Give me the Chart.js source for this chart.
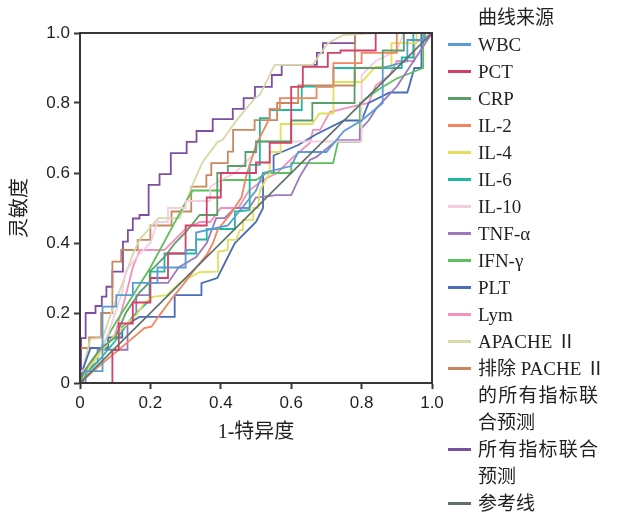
<!DOCTYPE html>
<html>
<head>
<meta charset="utf-8">
<script src="https://cdn.jsdelivr.net/npm/chart.js@4.4.1/dist/chart.umd.min.js"></script>
<style>
  body { margin: 0; background: #fff; }
  #wrap { position: relative; width: 627px; height: 513px; }
  #legend { position: absolute; left: 448px; top: 4px; font-family: "Liberation Serif", "Noto Sans CJK SC", serif; font-size: 19px; color: #231f20; }
  .row { height: 27px; line-height: 27px; white-space: nowrap; display: flex; align-items: center; }
  .sw { width: 23px; height: 3px; margin-right: 7px; flex: none; }
  .nosw { width: 30px; flex: none; }
  .just { width: 120px; text-align: justify; text-align-last: justify; }
</style>
</head>
<body>
<div id="wrap">
  <canvas id="myChart" width="627" height="513"></canvas>
  <div id="legend"></div>
</div>
<script>
// series names as in legend (multi-line labels split with |)
var names = ['WBC', 'PCT', 'CRP', 'IL-2', 'IL-4', 'IL-6', 'IL-10', 'TNF-α', 'IFN-γ', 'PLT', 'Lym', 'APACHE Ⅱ',
  '排除 PACHE Ⅱ|的所有指标联|合预测', '所有指标联合|预测', '参考线'];
var colors = ['#5b9bd5', '#d63f66', '#5a9e6a', '#f4845f', '#e2df5a', '#1fb8a0', '#f5cde0', '#9b79bf',
  '#5cc05c', '#4a6cba', '#f590bc', '#d7d7a9', '#c9875f', '#7d4fa3', '#5f6f6a'];

// 1-specificity / sensitivity
var wbcX = [0, 0.016, 0.016, 0.064, 0.064, 0.103, 0.103, 0.15, 0.15, 0.22, 0.22, 0.3, 0.3, 0.33, 0.33, 0.42, 0.46, 0.5, 0.52, 0.6, 0.62, 0.7, 0.75, 0.8, 0.86, 0.86, 0.93, 0.93, 0.98, 0.98, 1];
var wbcY = [0, 0, 0.034, 0.034, 0.218, 0.218, 0.251, 0.251, 0.286, 0.286, 0.33, 0.33, 0.38, 0.38, 0.43, 0.45, 0.5, 0.55, 0.6, 0.62, 0.66, 0.66, 0.72, 0.75, 0.8, 0.9, 0.92, 0.98, 0.98, 1, 1];
var pctX = [0, 0.092, 0.092, 0.11, 0.11, 0.15, 0.15, 0.2, 0.2, 0.25, 0.25, 0.3, 0.3, 0.36, 0.36, 0.4, 0.4, 0.5, 0.5, 0.539, 0.539, 0.6, 0.6, 0.633, 0.633, 0.704, 0.704, 0.74, 0.74, 0.84, 0.84, 1];
var pctY = [0, 0, 0.094, 0.094, 0.17, 0.17, 0.23, 0.23, 0.3, 0.3, 0.37, 0.37, 0.45, 0.45, 0.53, 0.53, 0.6, 0.6, 0.63, 0.63, 0.686, 0.686, 0.846, 0.846, 0.903, 0.903, 0.943, 0.943, 0.95, 0.95, 1, 1];
var crpX = [0, 0.01, 0.03, 0.06, 0.1, 0.13, 0.17, 0.2, 0.2, 0.24, 0.27, 0.3, 0.34, 0.39, 0.39, 0.42, 0.42, 0.47, 0.47, 0.5, 0.5, 0.6, 0.6, 0.66, 0.66, 0.78, 0.78, 0.86, 0.86, 0.92, 0.92, 1];
var crpY = [0, 0.03, 0.06, 0.1, 0.13, 0.2, 0.26, 0.29, 0.32, 0.36, 0.4, 0.43, 0.48, 0.48, 0.6, 0.6, 0.62, 0.62, 0.66, 0.66, 0.69, 0.69, 0.75, 0.75, 0.8, 0.8, 0.9, 0.9, 0.95, 0.95, 1, 1];
var il2X = [0, 0.05, 0.103, 0.183, 0.203, 0.226, 0.26, 0.3, 0.33, 0.36, 0.378, 0.391, 0.43, 0.459, 0.473, 0.482, 0.5, 0.52, 0.539, 0.539, 0.568, 0.568, 0.672, 0.672, 0.72, 0.72, 0.8, 0.8, 0.9, 0.9, 1];
var il2Y = [0, 0.045, 0.089, 0.157, 0.161, 0.194, 0.24, 0.29, 0.33, 0.366, 0.4, 0.437, 0.486, 0.531, 0.594, 0.623, 0.68, 0.72, 0.757, 0.783, 0.783, 0.814, 0.814, 0.847, 0.847, 0.914, 0.914, 0.943, 0.943, 1, 1];
var il4X = [0, 0.03, 0.064, 0.092, 0.121, 0.16, 0.183, 0.206, 0.246, 0.283, 0.34, 0.392, 0.392, 0.42, 0.42, 0.444, 0.454, 0.463, 0.463, 0.492, 0.492, 0.506, 0.511, 0.539, 0.539, 0.57, 0.57, 0.66, 0.68, 0.72, 0.72, 0.8, 0.84, 0.885, 0.885, 0.956, 0.956, 1];
var il4Y = [0, 0.05, 0.094, 0.129, 0.157, 0.194, 0.229, 0.246, 0.251, 0.286, 0.317, 0.318, 0.375, 0.38, 0.409, 0.409, 0.437, 0.437, 0.466, 0.466, 0.5, 0.5, 0.55, 0.6, 0.66, 0.66, 0.74, 0.74, 0.77, 0.77, 0.86, 0.86, 0.904, 0.904, 0.971, 0.971, 1, 1];
var il6X = [0, 0.02, 0.05, 0.1, 0.15, 0.198, 0.198, 0.24, 0.24, 0.33, 0.33, 0.36, 0.36, 0.44, 0.44, 0.482, 0.482, 0.511, 0.511, 0.539, 0.539, 0.63, 0.63, 0.72, 0.72, 0.914, 0.914, 0.947, 0.947, 1];
var il6Y = [0, 0.03, 0.06, 0.12, 0.19, 0.237, 0.318, 0.318, 0.37, 0.37, 0.41, 0.41, 0.44, 0.44, 0.49, 0.494, 0.623, 0.623, 0.757, 0.757, 0.78, 0.78, 0.847, 0.847, 0.9, 0.9, 0.93, 0.93, 1, 1];
var il10X = [0, 0, 0.04, 0.08, 0.1, 0.12, 0.13, 0.17, 0.2, 0.22, 0.25, 0.25, 0.3, 0.3, 0.37, 0.37, 0.4, 0.44, 0.48, 0.5, 0.51, 0.8, 0.8, 0.84, 0.9, 0.92, 1];
var il10Y = [0, 0.03, 0.06, 0.14, 0.2, 0.26, 0.32, 0.37, 0.4, 0.46, 0.46, 0.5, 0.5, 0.52, 0.52, 0.56, 0.58, 0.6, 0.64, 0.66, 0.69, 0.69, 0.88, 0.92, 0.95, 1, 1];
var tnfX = [0, 0.01, 0.01, 0.05, 0.05, 0.135, 0.135, 0.16, 0.16, 0.198, 0.198, 0.25, 0.28, 0.33, 0.36, 0.387, 0.411, 0.44, 0.48, 0.5, 0.558, 0.6, 0.624, 0.653, 0.672, 0.73, 0.795, 0.795, 0.82, 0.843, 0.9, 1];
var tnfY = [0, 0, 0.03, 0.06, 0.095, 0.095, 0.17, 0.2, 0.251, 0.251, 0.286, 0.286, 0.33, 0.36, 0.4, 0.471, 0.471, 0.5, 0.5, 0.53, 0.537, 0.537, 0.589, 0.637, 0.646, 0.694, 0.694, 0.723, 0.75, 0.786, 0.847, 1];
var ifnX = [0, 0.1, 0.2, 0.302, 0.32, 0.4, 0.4, 0.5, 0.53, 0.6, 0.6, 0.719, 0.733, 0.795, 0.795, 0.85, 0.9, 0.975, 0.975, 1];
var ifnY = [0, 0.17, 0.33, 0.52, 0.55, 0.55, 0.58, 0.58, 0.6, 0.6, 0.628, 0.628, 0.689, 0.689, 0.8, 0.84, 0.87, 0.9, 1, 1];
var pltX = [0, 0.005, 0.03, 0.08, 0.08, 0.12, 0.12, 0.169, 0.269, 0.269, 0.345, 0.345, 0.39, 0.42, 0.44, 0.5, 0.52, 0.52, 0.55, 0.55, 0.62, 0.67, 0.75, 0.8, 0.82, 0.88, 0.93, 0.95, 0.97, 0.97, 1];
var pltY = [0, 0.03, 0.1, 0.1, 0.13, 0.13, 0.16, 0.189, 0.189, 0.251, 0.251, 0.285, 0.3, 0.36, 0.4, 0.46, 0.5, 0.6, 0.6, 0.65, 0.68, 0.71, 0.75, 0.75, 0.8, 0.83, 0.83, 0.9, 0.9, 1, 1];
var lymX = [0, 0.02, 0.05, 0.1, 0.13, 0.15, 0.17, 0.24, 0.26, 0.3, 0.34, 0.37, 0.4, 0.45, 0.48, 0.52, 0.56, 0.6, 0.653, 0.662, 0.682, 0.71, 0.758, 0.82, 0.84, 0.88, 0.9, 0.95, 0.95, 1];
var lymY = [0, 0.03, 0.08, 0.14, 0.25, 0.33, 0.38, 0.38, 0.4, 0.44, 0.46, 0.46, 0.5, 0.5, 0.55, 0.58, 0.6, 0.64, 0.686, 0.723, 0.723, 0.774, 0.786, 0.8, 0.85, 0.88, 0.92, 0.92, 0.97, 1];
var apacheX = [0, 0.01, 0.03, 0.064, 0.092, 0.121, 0.147, 0.169, 0.223, 0.283, 0.303, 0.317, 0.348, 0.391, 0.405, 0.445, 0.497, 0.511, 0.553, 0.661, 0.704, 0.747, 0.844, 1];
var apacheY = [0, 0.05, 0.126, 0.129, 0.209, 0.286, 0.36, 0.409, 0.471, 0.471, 0.523, 0.56, 0.631, 0.689, 0.694, 0.751, 0.814, 0.823, 0.909, 0.909, 0.971, 0.994, 1, 1];
var exclX = [0, 0, 0.026, 0.026, 0.06, 0.06, 0.092, 0.092, 0.117, 0.117, 0.164, 0.164, 0.2, 0.2, 0.26, 0.26, 0.316, 0.316, 0.359, 0.359, 0.373, 0.373, 0.42, 0.42, 0.435, 0.435, 0.496, 0.496, 0.56, 0.56, 0.62, 0.62, 0.781, 0.781, 1];
var exclY = [0, 0.1, 0.1, 0.13, 0.13, 0.2, 0.2, 0.347, 0.347, 0.38, 0.38, 0.409, 0.409, 0.45, 0.45, 0.49, 0.49, 0.561, 0.561, 0.594, 0.594, 0.628, 0.628, 0.661, 0.661, 0.723, 0.723, 0.751, 0.751, 0.8, 0.8, 0.85, 0.85, 1, 1];
var allX = [0, 0.003, 0.003, 0.016, 0.016, 0.044, 0.044, 0.062, 0.062, 0.075, 0.075, 0.092, 0.092, 0.122, 0.122, 0.136, 0.136, 0.15, 0.15, 0.169, 0.169, 0.195, 0.195, 0.226, 0.226, 0.258, 0.258, 0.303, 0.303, 0.331, 0.331, 0.377, 0.377, 0.434, 0.434, 0.465, 0.465, 0.497, 0.497, 0.545, 0.545, 0.573, 0.573, 0.673, 0.673, 0.69, 0.69, 0.781, 0.781, 1];
var allY = [0, 0, 0.128, 0.128, 0.2, 0.2, 0.22, 0.22, 0.247, 0.247, 0.275, 0.275, 0.318, 0.318, 0.404, 0.404, 0.437, 0.437, 0.47, 0.47, 0.48, 0.48, 0.566, 0.566, 0.597, 0.597, 0.657, 0.657, 0.689, 0.689, 0.72, 0.72, 0.754, 0.754, 0.783, 0.783, 0.814, 0.814, 0.846, 0.846, 0.88, 0.88, 0.909, 0.909, 0.943, 0.943, 0.971, 0.971, 1, 1];
var refX = [0, 1];
var refY = [0, 1];

var xs = [wbcX, pctX, crpX, il2X, il4X, il6X, il10X, tnfX, ifnX, pltX, lymX, apacheX, exclX, allX, refX];
var ys = [wbcY, pctY, crpY, il2Y, il4Y, il6Y, il10Y, tnfY, ifnY, pltY, lymY, apacheY, exclY, allY, refY];
var tickVals = [0, 0.2, 0.4, 0.6, 0.8, 1.0];

var datasets = [];
for (var i = 0; i < names.length; i++) {
    var pts = [];
    for (var k = 0; k < xs[i].length; k++) pts.push({x: xs[i][k], y: ys[i][k]});
    datasets.push({
        label: names[i].replace(/\|/g, ''),
        data: pts,
        borderColor: colors[i],
        borderWidth: i == 14 ? 1.6 : 1.8,
        pointRadius: 0,
        showLine: true,
        fill: false,
        tension: 0,
        order: i == 14 ? -1 : i   // reference line on top
    });
}

// frame round the plot
var framePlugin = {
    id: 'frame',
    afterDraw: function(chart) {
        var a = chart.chartArea, c = chart.ctx;
        c.save();
        c.strokeStyle = '#3a3536';
        c.lineWidth = 2;
        c.strokeRect(a.left, a.top, a.right - a.left, a.bottom - a.top);
        c.restore();
    }
};

var tickFont = {family: '"Liberation Sans", "Noto Sans", sans-serif', size: 17};
var titleFont = {family: '"Liberation Serif", "Noto Sans CJK SC", serif', size: 20};

function axis(title, isX) {
    return {
        type: 'linear',
        min: 0, max: 1,
        afterBuildTicks: function(s) { s.ticks = tickVals.map(function(v) { return {value: v}; }); },
        afterFit: function(s) { if (isX) s.height = 130; else s.width = 80; },
        ticks: {
            color: '#231f20', font: tickFont, padding: 4,
            callback: function(v) { return v === 0 ? '0' : v.toFixed(1); }
        },
        grid: {display: true, drawOnChartArea: false, drawTicks: true, tickLength: 6, tickColor: '#3a3536', tickWidth: 2},
        border: {display: true, color: '#3a3536', width: 2},
        title: {display: true, text: title, color: '#231f20', font: titleFont,
            padding: isX ? {top: 0, bottom: 68} : {top: 9, bottom: 0}}
    };
}

var ctx = document.getElementById('myChart').getContext('2d');
var myChart = new Chart(ctx, {
    type: 'scatter',
    data: {datasets: datasets},
    options: {
        responsive: false,
        animation: false,
        layout: {padding: {left: 0, top: 33, right: 195, bottom: 0}},
        plugins: {legend: {display: false}, tooltip: {enabled: false}},
        scales: {x: axis('1-特异度', true), y: axis('灵敏度', false)}
    },
    plugins: [framePlugin]
});

// legend drawn as html
var leg = document.getElementById('legend');
var html = '<div class="row"><span class="nosw"></span>曲线来源</div>';
for (var i = 0; i < names.length; i++) {
    var parts = names[i].split('|');
    for (var p = 0; p < parts.length; p++) {
        var sw = p == 0 ? '<span class="sw" style="background:' + colors[i] + '"></span>' : '<span class="nosw"></span>';
        var cls = (parts.length > 1 && p < parts.length - 1) ? ' class="just"' : '';
        html += '<div class="row">' + sw + '<span' + cls + '>' + parts[p] + '</span></div>';
    }
}
leg.innerHTML = html;
</script>
</body>
</html>
